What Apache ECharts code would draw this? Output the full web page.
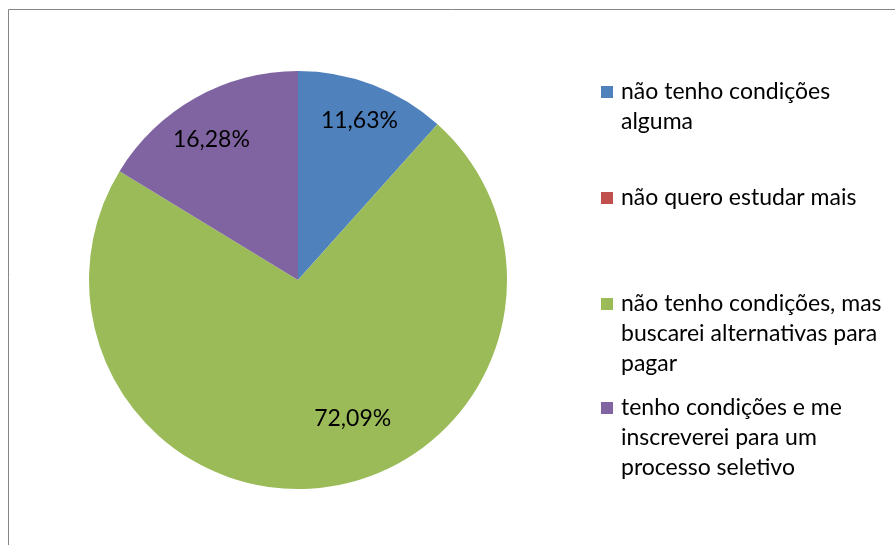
<!DOCTYPE html>
<html>
<head>
<meta charset="utf-8">
<script src="https://cdn.jsdelivr.net/npm/echarts@6/dist/echarts.min.js"></script>
<style>
html,body{margin:0;padding:0;background:#fff;}
#chart{width:895px;height:545px;}
</style>
</head>
<body>
<div id="chart"></div>
<script>
// ---- data ----
var categories = [
  'não tenho condições alguma',
  'não quero estudar mais',
  'não tenho condições, mas buscarei alternativas para pagar',
  'tenho condições e me inscreverei para um processo seletivo'
];
var percentValues = [11.63, 0, 72.09, 16.28];
var legendLines = [
  ['não tenho condições', 'alguma'],
  ['não quero estudar mais'],
  ['não tenho condições, mas', 'buscarei alternativas para', 'pagar'],
  ['tenho condições e me', 'inscreverei para um', 'processo seletivo']
];

// ---- style / layout ----
var colors = ['#4F81BD', '#C0504D', '#9BBB59', '#8064A2'];
var FONT = 'Lato';
var FS = 23;
var LH = 30;
var legendIconCenters = [92, 198, 304, 408];
var labelNudge = [[23, -59], [0, 0], [39, 32], [-34, -47]];

var chart = echarts.init(document.getElementById('chart'));

var legends = categories.map(function (name, i) {
  var n = legendLines[i].length;
  return {
    orient: 'vertical',
    left: 601,
    top: legendIconCenters[i] - (2 * n - 1) * LH / 2,
    padding: 0,
    itemWidth: 12,
    itemHeight: 12,
    icon: 'rect',
    selectedMode: false,
    data: [name],
    formatter: function (nm) {
      var lines = legendLines[categories.indexOf(nm)];
      // blank lines above keep the first text line level with the icon
      return new Array(lines.length).join('\n') + lines.join('\n');
    },
    textStyle: {
      fontFamily: FONT,
      fontSize: FS,
      lineHeight: LH,
      color: '#000',
      padding: [0, 0, 0, 3]
    }
  };
});

chart.setOption({
  backgroundColor: '#fff',
  animation: false,
  color: colors,
  legend: legends,
  graphic: [{
    type: 'rect',
    shape: { x: 8.5, y: 9.5, width: 1000, height: 1000 },
    style: { fill: 'none', stroke: '#868686', lineWidth: 1 },
    silent: true,
    z: -1
  }],
  series: [{
    type: 'pie',
    center: [298, 280],
    radius: [0, 209],
    startAngle: 90,
    clockwise: true,
    avoidLabelOverlap: false,
    itemStyle: { borderWidth: 0 },
    emphasis: { disabled: true },
    label: {
      show: true,
      position: 'inside',
      fontFamily: FONT,
      fontSize: FS,
      color: '#000',
      formatter: function (p) {
        return p.value > 0 ? p.value.toFixed(2).replace('.', ',') + '%' : '';
      }
    },
    labelLine: { show: false },
    labelLayout: function (p) {
      return { dx: labelNudge[p.dataIndex][0], dy: labelNudge[p.dataIndex][1] };
    },
    data: categories.map(function (c, i) {
      return { name: c, value: percentValues[i] };
    })
  }]
});
</script>
</body>
</html>
